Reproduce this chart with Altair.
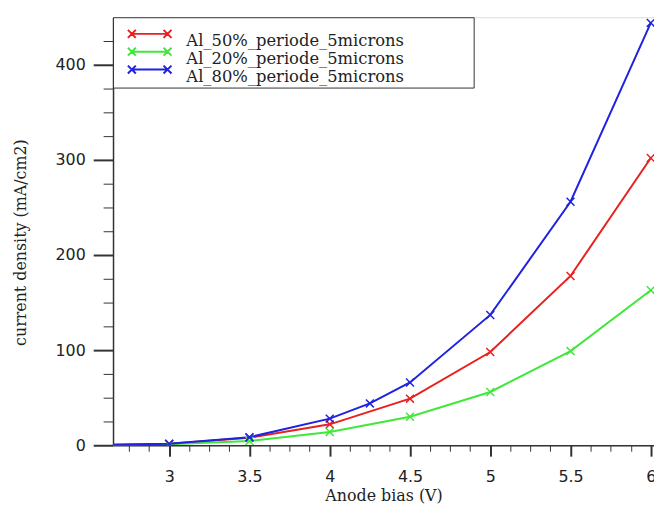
import altair as alt
import pandas as pd

# ---- data ----
series_names = ["Al_50%_periode_5microns", "Al_20%_periode_5microns", "Al_80%_periode_5microns"]
series_colors = ["#e8201e", "#3fe83a", "#1f22e0"]

bias_50 = [2.5, 3.0, 3.5, 4.0, 4.5, 5.0, 5.5, 6.0]
cur_50 = [0.0, 1.5, 8.0, 22.0, 49.0, 98.0, 178.0, 302.0]

bias_20 = [2.5, 3.0, 3.5, 4.0, 4.5, 5.0, 5.5, 6.0]
cur_20 = [0.0, 1.0, 4.5, 14.0, 30.0, 56.0, 99.0, 163.0]

bias_80 = [2.5, 3.0, 3.5, 4.0, 4.25, 4.5, 5.0, 5.5, 6.0]
cur_80 = [0.0, 1.5, 8.5, 28.0, 44.0, 66.0, 137.0, 256.0, 444.0]

x_tick_values = [2.75 + 0.125 * i for i in range(27)]   # 2.75 ... 6.0
y_tick_values = [25 * i for i in range(18)]             # 0 ... 425

rows = []
for name, xs, ys in [(series_names[0], bias_50, cur_50),
                     (series_names[1], bias_20, cur_20),
                     (series_names[2], bias_80, cur_80)]:
    for xv, yv in zip(xs, ys):
        rows.append({"series": name, "bias": xv, "current": yv})
df = pd.DataFrame(rows)

x_axis = alt.Axis(
    values=x_tick_values,
    labelExpr="(datum.value * 2) % 1 === 0 ? format(datum.value, '~g') : ''",
    tickSize={"condition": {"test": "(datum.value * 2) % 1 === 0", "value": 11}, "value": 6},
    tickWidth={"condition": {"test": "(datum.value * 2) % 1 === 0", "value": 2}, "value": 1},
    tickColor="#333", domainColor="#333", domainWidth=1.5,
    grid=False, labelFont="DejaVu Sans", labelFontSize=16, labelColor="#222",
    labelPadding=13, title="Anode bias (V)", titleFont="DejaVu Serif",
    titleFontSize=16, titleFontWeight="normal", titleColor="#222", titlePadding=3,
)
y_axis = alt.Axis(
    values=y_tick_values,
    labelExpr="datum.value % 100 === 0 ? format(datum.value, 'd') : ''",
    tickSize={"condition": {"test": "datum.value % 100 === 0", "value": 20}, "value": 10},
    tickWidth={"condition": {"test": "datum.value % 100 === 0", "value": 2}, "value": 1},
    tickColor="#333", domainColor="#333", domainWidth=1.5,
    grid=False, labelFont="DejaVu Sans", labelFontSize=16, labelColor="#222",
    labelPadding=8, title="current density (mA/cm2)", titleFont="DejaVu Serif",
    titleFontSize=16, titleFontWeight="normal", titleColor="#222", titlePadding=27,
    titleY=227,
)

x_enc = alt.X("bias:Q", scale=alt.Scale(domain=[2.65, 6.02], nice=False, zero=False), axis=x_axis)
y_enc = alt.Y("current:Q", scale=alt.Scale(domain=[0, 450], nice=False), axis=y_axis)
color_scale = alt.Scale(domain=series_names, range=series_colors)

legend_path = ("M1,-0.9H5.5"
               "M0.5,-1.4L1.5,-0.4M0.5,-0.4L1.5,-1.4"
               "M5,-1.4L6,-0.4M5,-0.4L6,-1.4")

legend = alt.Legend(
    orient="none", legendX=0, legendY=0,
    title="\u200b" + "\u2003" * 45 + "\u200b", titleFontSize=8, titleFont="DejaVu Sans",
    titlePadding=5, titleLimit=1000,
    symbolType=legend_path, symbolSize=256, symbolStrokeWidth=2, symbolFillColor="transparent",
    labelFont="DejaVu Serif", labelFontSize=16.5, labelColor="#222", labelOffset=54, labelLimit=400,
    rowPadding=-12, padding=2, strokeColor="#333", fillColor="white",
)

lines = alt.Chart(df).mark_line(strokeWidth=2, clip=True).encode(
    x=x_enc, y=y_enc,
    color=alt.Color("series:N", scale=color_scale, sort=series_names, legend=legend),
    order=alt.Order("bias:Q"),
)
points = alt.Chart(df).mark_point(
    shape="M-1,-1L1,1M-1,1L1,-1", size=64, filled=False, strokeWidth=1.5, opacity=1, clip=True
).encode(
    x=x_enc, y=y_enc,
    color=alt.Color("series:N", scale=color_scale, sort=series_names, legend=None),
)

chart = alt.layer(lines, points).properties(
    width=546, height=432,
    autosize=alt.AutoSizeParams(type="none"),
    padding={"left": 106, "top": 7, "right": 0, "bottom": 59},
).configure_view(stroke="#999", strokeWidth=1.5).configure(background="white")

chart.save("out.html", embed_options={"renderer": "svg", "actions": False})
